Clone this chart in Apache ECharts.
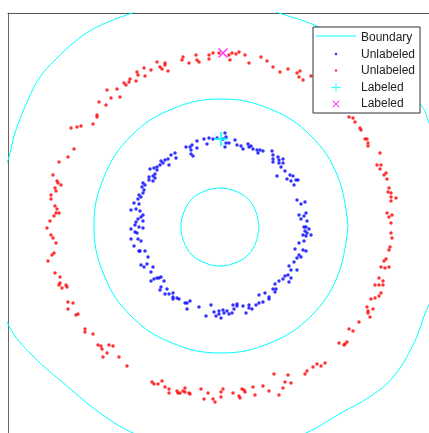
<!DOCTYPE html>
<html>
<head>
    <meta charset="utf-8">
    <title>Label spreading - two rings</title>
    <script src="https://cdn.jsdelivr.net/npm/echarts@6/dist/echarts.min.js"></script>
    <style>
        html, body { margin: 0; padding: 0; background: #fff; }
        #main { width: 429px; height: 433px; }
    </style>
</head>
<body>
<div id="main"></div>

<script type="text/javascript">
    // unlabeled points, inner ring (blue)
    var innerRing = [
        [-12,88],[-17,87],[-24,85],[-14,82],[-29,81],[-31,79],[-35,79],[-30,76],[-24,78],[-30,72],
        [-28,70],[-46,73],[-50,71],[-53,67],[-45,68],[-56,66],[-60,65],[-58,63],[-52,61],[-61,61],
        [-64,59],[-67,58],[-64,56],[-71,57],[-66,52],[-68,50],[-66,48],[-72,49],[-72,46],[-68,45],
        [-78,43],[-76,41],[-79,39],[-77,36],[-82,31],[-80,29],[-83,27],[-78,33],[-87,23],[-82,22],
        [-85,17],[-81,15],[-90,16],[-78,11],[-80,9],[-8,87],[-4,88],
        [4,93],[5,89],[2,87],[5,83],[8,83],[4,79],[14,86],[16,81],[20,80],[22,77],
        [27,82],[28,79],[30,80],[32,77],[36,76],[39,76],[42,75],[37,73],[51,75],[52,71],
        [52,67],[57,69],[58,66],[62,67],[52,64],[58,63],[62,63],[60,59],[64,55],[56,50],
        [69,51],[72,50],[66,47],[70,45],[75,46],[77,46],[73,41],[76,26],[80,22],[84,24],
        [78,11],[85,13],[83,10],
        [-83,7],[-85,4],[-78,5],[-86,1],[-82,-1],[-90,-3],[-78,-2],[-86,-6],[-84,-7],[-90,-13],
        [-83,-13],[-80,-15],[-87,-20],[-81,-25],[-76,-25],[-82,-25],[-73,-31],[-74,-38],[-80,-39],[-77,-41],
        [-68,-41],[-70,-46],[-64,-52],[-67,-53],[-62,-52],[-60,-51],[-70,-55],[-57,-55],[-60,-61],[-61,-64],
        [-54,-63],[-56,-68],[-52,-68],[-48,-67],[-48,-71],[-48,-73],[-44,-72],[-42,-73],[-36,-77],[-34,-77],
        [-31,-75],[-34,-83],[-22,-81],[-15,-90],[-10,-79],[-7,-86],
        [80,7],[86,5],[83,-1],[85,-1],[84,-5],[86,-7],[90,-9],[82,-9],[85,-10],[88,-3],
        [83,-15],[78,-17],[74,-23],[82,-24],[85,-25],[78,-29],[76,-32],[80,-31],[73,-36],[68,-40],
        [70,-44],[76,-44],[67,-49],[64,-50],[70,-52],[68,-56],[62,-53],[58,-55],[54,-58],[52,-63],
        [55,-63],[54,-66],[48,-71],[48,-73],[44,-67],[38,-69],[42,-76],[38,-77],[35,-79],[31,-83],
        [28,-79],[28,-82],[25,-87],[22,-80],[16,-78],[16,-80],[12,-79],[13,-83],[11,-87],[8,-88],
        [6,-85],[3,-87],[2,-84],[-2,-85],[-2,-88],[0,-92],[-5,-90]
    ];

    // unlabeled points, outer ring (red)
    var outerRing = [
        [-38,169],[-39,166],[-32,163],[-25,171],[-24,166],[-22,164],[-12,171],[-12,167],[-8,173],[-64,164],
        [-56,163],[-61,159],[-59,157],[-56,161],[-53,155],[-70,156],[-77,158],[-76,150],[-84,154],[-83,151],
        [-85,145],[-91,147],[-92,144],[-97,143],[-95,141],[-104,137],[-114,136],[-110,128],[-101,129],[-122,124],
        [-115,121],[-124,111],[-124,109],[-128,102],[-140,100],[-144,99],[-150,98],[-147,77],[-153,69],[-162,64],
        [-168,51],[-164,45],[-163,43],[-160,41],[-166,38],[-165,35],[-170,31],[-170,27],[-166,20],[-164,17],
        [-165,13],[-162,13],[-167,10],
        [-171,5],[-174,-2],[-170,-9],[-168,-12],[-165,-17],[-167,-27],[-169,-29],[-173,-35],[-166,-47],[-161,-51],
        [-161,-57],[-162,-59],[-155,-59],[-154,-61],[-159,-62],[-153,-76],[-148,-77],[-153,-83],[-143,-88],[-145,-89],
        [-136,-103],[-136,-106],[-128,-108],[-123,-119],[-120,-120],[-119,-123],[-112,-119],[-108,-120],[-114,-127],[-118,-131],
        [-102,-131],[-94,-140],[-69,-156],[-67,-158],[-59,-155],[-63,-158],[-56,-161],[-52,-163],[-52,-167],[-44,-165],
        [-43,-167],[-41,-167],[-38,-165],[-36,-162],[-36,-166],[-32,-167],[-31,-168],[-20,-163],[-17,-173],[-13,-167],
        [-8,-173],
        [-2,173],[8,171],[11,173],[15,172],[18,174],[9,166],[24,171],[28,163],[40,169],[46,165],
        [52,159],[59,154],[67,157],[76,153],[79,155],[78,149],[82,146],[90,150],[128,109],[132,108],
        [134,104],[139,98],[140,96],[144,87],[146,87],[147,83],[147,80],[159,73],[156,61],[160,61],
        [159,57],[163,51],[165,53],[166,47],[168,38],[167,34],[170,33],[170,29],[175,28],[170,25],
        [166,13],[171,11],
        [168,9],[170,3],[170,-7],[171,-12],[169,-21],[168,-24],[165,-33],[163,-35],[160,-41],[164,-42],
        [168,-41],[158,-52],[162,-55],[154,-59],[158,-59],[162,-59],[160,-67],[158,-70],[154,-72],[150,-73],
        [146,-81],[147,-85],[152,-83],[147,-87],[149,-91],[138,-96],[128,-103],[132,-105],[126,-116],[124,-118],
        [123,-119],[118,-117],[104,-137],[100,-140],[96,-138],[92,-141],[86,-145],[84,-148],[67,-149],[53,-148],
        [64,-156],[70,-157],[62,-162],[58,-169],[48,-165],[42,-160],[32,-161],[34,-169],[23,-164],[21,-163],
        [24,-166],[18,-170],[19,-172],[12,-167],[2,-163],[0,-166],[0,-171],[-6,-176]
    ];

    // labeled points
    var labeledInner = [[0,87]];
    var labeledOuter = [[2,173]];

    // decision boundary contours
    var boundaryInner = [
        [38,-1],[35,14],[27,27],[14,35],[-1,38],[-16,35],[-29,27],[-37,14],[-40,-1],
        [-37,-16],[-29,-29],[-16,-37],[-1,-40],[14,-37],[27,-29],[35,-16],[38,-1]
    ];
    var boundaryMiddle = [
        [127,0],[117,49],[90,90],[49,117],[0,127],[-49,117],[-90,90],[-117,49],[-127,0],
        [-117,-49],[-90,-90],[-49,-117],[0,-127],[49,-117],[90,-90],[117,-49],[127,0]
    ];
    var boundaryOuter = [
        [0,232],[61,212],[93,201],[130,182],[165,153],[200,121],[207,106],[225,50],[232,0],[225,-45],
        [206,-83],[193,-117],[173,-150],[150,-170],[120,-187],[85,-207],[39,-224],[0,-229],[-41,-224],
        [-88,-207],[-121,-187],[-154,-160],[-188,-130],[-212,-100],[-226,-54],[-229,0],[-224,36],
        [-212,69],[-206,93],[-193,126],[-181,149],[-166,166],[-144,186],[-124,199],[-89,213],[-51,226],[0,232]
    ];

    var legendNames = ['Boundary', 'Unlabeled', 'Unlabeled ', 'Labeled', 'Labeled '];

    var plusPath = 'path://M4.2,0L5.8,0L5.8,4.2L10,4.2L10,5.8L5.8,5.8L5.8,10L4.2,10L4.2,5.8L0,5.8L0,4.2L4.2,4.2Z';
    var crossPath = 'path://M0,1L1,0L5,4L9,0L10,1L6,5L10,9L9,10L5,6L1,10L0,9L4,5Z';

    var myChart = echarts.init(document.getElementById('main'));

    function boundarySeries(data) {
        return {
            name: legendNames[0],
            type: 'line',
            data: data,
            symbol: 'none',
            smooth: 0.4,
            clip: true,
            lineStyle: {color: '#00ffff', width: 1},
            itemStyle: {color: '#00ffff'},
            z: 1
        };
    }

    myChart.setOption({
        animation: false,
        backgroundColor: '#fff',
        // axes box runs off the right and bottom of the picture
        grid: {left: 8, top: 13, width: 421, height: 420, outerBoundsMode: 'none'},
        xAxis: {
            type: 'value', position: 'top', min: -213, max: 208,
            axisLine: {show: true, onZero: false, lineStyle: {color: '#555', width: 1}},
            axisTick: {show: false}, axisLabel: {show: false}, splitLine: {show: false}
        },
        yAxis: {
            type: 'value', position: 'left', min: -207, max: 213,
            axisLine: {show: true, onZero: false, lineStyle: {color: '#666', width: 1}},
            axisTick: {show: false}, axisLabel: {show: false}, splitLine: {show: false}
        },
        legend: {
            orient: 'vertical',
            left: 313, top: 27,
            padding: [5, 5, 3, 3],
            itemWidth: 40, itemHeight: 12, itemGap: 4.5,
            backgroundColor: '#fff',
            borderColor: '#333', borderWidth: 1,
            itemStyle: {borderWidth: 0},
            selectedMode: false,
            formatter: function (name) { return name.trim(); },
            textStyle: {fontFamily: 'Liberation Sans, Arial, sans-serif', fontSize: 12, color: '#222', lineHeight: 12},
            data: [
                {name: legendNames[0], icon: 'path://M0,0M40,12M0,3.5L40,3.5L40,4.5L0,4.5Z'},
                {name: legendNames[1], icon: 'path://M0,0M40,12M19.5,4.3L20.5,4.3L21.2,5L21.2,6L20.5,6.7L19.5,6.7L18.8,6L18.8,5Z'},
                {name: legendNames[2], icon: 'path://M0,0M40,12M19.5,4.3L20.5,4.3L21.2,5L21.2,6L20.5,6.7L19.5,6.7L18.8,6L18.8,5Z'},
                {name: legendNames[3], icon: 'path://M0,0M40,12M19.5,1.5L20.5,1.5L20.5,5.5L24.5,5.5L24.5,6.5L20.5,6.5L20.5,10.5L19.5,10.5L19.5,6.5L15.5,6.5L15.5,5.5L19.5,5.5Z'},
                {name: legendNames[4], icon: 'path://M0,0M40,12M16.5,3.2L17.2,2.5L20,5.3L22.8,2.5L23.5,3.2L20.7,6L23.5,8.8L22.8,9.5L20,6.7L17.2,9.5L16.5,8.8L19.3,6Z'}
            ]
        },
        series: [
            boundarySeries(boundaryOuter),
            boundarySeries(boundaryMiddle),
            boundarySeries(boundaryInner),
            {
                name: legendNames[1], type: 'scatter', data: innerRing,
                symbol: 'circle', symbolSize: 3.5, itemStyle: {color: '#0000ff'}, z: 2
            },
            {
                name: legendNames[2], type: 'scatter', data: outerRing,
                symbol: 'circle', symbolSize: 3.5, itemStyle: {color: '#ff0000'}, z: 2
            },
            {
                name: legendNames[3], type: 'scatter', data: labeledInner,
                symbol: plusPath, symbolSize: 14, itemStyle: {color: '#00ffff'}, z: 3
            },
            {
                name: legendNames[4], type: 'scatter', data: labeledOuter,
                symbol: crossPath, symbolSize: 10, itemStyle: {color: '#ff00ff'}, z: 3
            }
        ]
    });
</script>
</body>
</html>
